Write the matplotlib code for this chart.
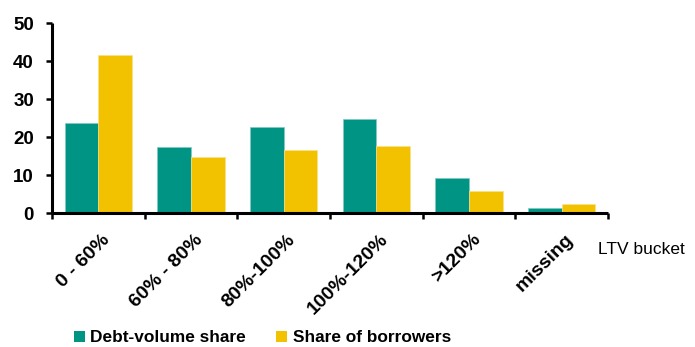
import matplotlib
matplotlib.use("Agg")
import matplotlib.pyplot as plt
import matplotlib.transforms as mtransforms
from matplotlib.patches import Patch
import numpy as np

categories = ["0 - 60%", "60% - 80%", "80%-100%", "100%-120%", ">120%", "missing"]
debt_volume_share = [23.7, 17.4, 22.6, 24.7, 9.2, 1.3]
share_of_borrowers = [41.6, 14.8, 16.6, 17.6, 5.8, 2.4]
series_names = ["Debt-volume share", "Share of borrowers"]
yticks = [0, 10, 20, 30, 40, 50]

teal = "#009485"
yellow = "#F2C200"

plt.rcParams['font.family'] = ['Liberation Sans', 'DejaVu Sans']

fig = plt.figure(figsize=(6.95, 3.47), dpi=100)
ax = fig.add_axes([52/695, 1-213/347, (608-52)/695, (213-23)/347])

x = np.arange(len(categories))
w = 0.365
ax.bar(x - w/2, debt_volume_share, width=w, color=teal, edgecolor='#7fcac2', linewidth=0.5, zorder=2)
ax.bar(x + w/2, share_of_borrowers, width=w, color=yellow, edgecolor='#f8e08a', linewidth=0.5, zorder=2)

ax.set_xlim(-0.5, len(categories) - 0.5)
ax.set_ylim(0, 50)

for s in ['top', 'right']:
    ax.spines[s].set_visible(False)
for s in ['left', 'bottom']:
    ax.spines[s].set_linewidth(2.2)
    ax.spines[s].set_capstyle('butt')

ax.set_yticks(yticks)
ax.set_yticklabels([str(v) for v in yticks], fontsize=13.5, fontweight='bold')
ax.tick_params(axis='y', direction='out', length=4, width=1.8, pad=9)

ax.set_xticks(np.arange(len(categories) + 1) - 0.5)
ax.set_xticklabels([])
ax.tick_params(axis='x', which='major', direction='out', length=4.5, width=1.8)
ax.set_xticks(x, minor=True)
ax.set_xticklabels(categories, minor=True, fontsize=14, fontweight='bold',
                   rotation=45, ha='right', va='top', rotation_mode='anchor')
ax.tick_params(axis='x', which='minor', length=0, pad=0)
offset = mtransforms.ScaledTranslation(3/100, -18/100, fig.dpi_scale_trans)
for lbl in ax.get_xticklabels(minor=True):
    lbl.set_transform(lbl.get_transform() + offset)

fig.text(598/695, 1-250/347, "LTV bucket", fontsize=12.5, ha='left', va='center')

handles = [Patch(facecolor=teal, edgecolor='none'), Patch(facecolor=yellow, edgecolor='none')]
leg = fig.legend(handles, series_names, loc='center left', bbox_to_anchor=(74/695, 9/347),
                 ncol=2, frameon=False, borderpad=0, borderaxespad=0,
                 handlelength=0.65, handleheight=0.65,
                 handletextpad=0.3, columnspacing=1.75,
                 prop={'size': 12.4, 'weight': 'bold'})

fig.savefig("out.png", dpi=100)
